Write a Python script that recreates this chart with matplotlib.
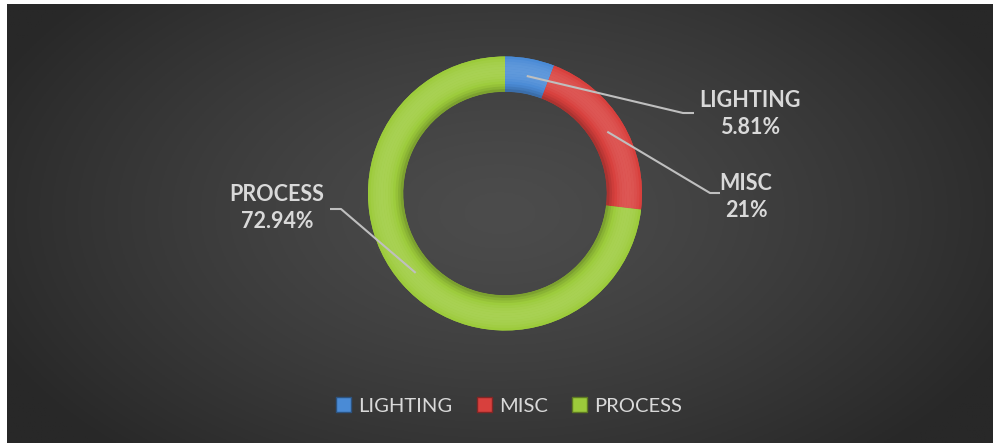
import numpy as np
import matplotlib
matplotlib.use("Agg")
import matplotlib.pyplot as plt
from matplotlib.patches import Wedge, Patch

categories = ["LIGHTING", "MISC", "PROCESS"]
values = [5.81, 21.0, 72.94]
pct_labels = ["5.81%", "21%", "72.94%"]
colors = ["#4A8BD6", "#D8403D", "#9CCB3B"]

W, H = 995, 443
fig = plt.figure(figsize=(W / 100, H / 100), dpi=100, facecolor="white")
ax = fig.add_axes([0, 0, 1, 1])
ax.set_xlim(0, W)
ax.set_ylim(0, H)
ax.axis("off")

# background radial gradient
x0, x1, y0, y1 = 7, 993, 0, 439
gx = np.linspace(x0, x1, 400)
gy = np.linspace(y0, y1, 200)
GX, GY = np.meshgrid(gx, gy)
cx, cy = 500, 230
d = np.sqrt(((GX - cx) / 560) ** 2 + ((GY - cy) / 330) ** 2)
d = np.clip(d, 0, 1)
light, dark = 0x4c / 255, 0x28 / 255
val = light + (dark - light) * d ** 1.3
img = np.dstack([val, val, val])
ax.imshow(img, extent=[x0, x1, y0, y1], origin="lower", aspect="auto", zorder=0)

# donut
center = (505, H - 193.5)
R = 137
width = 35
wedges, _ = ax.pie(values, colors=colors, startangle=90, counterclock=False,
                   radius=R, center=center,
                   wedgeprops=dict(width=width, edgecolor="none"), frame=True)
ax.set_xlim(0, W)
ax.set_ylim(0, H)
ax.set_aspect("equal")
ax.axis("off")

# tube shading bands
def blend(c, t):
    rgb = np.array(matplotlib.colors.to_rgb(c))
    if t >= 0:
        return rgb + (1 - rgb) * t
    return rgb * (1 + t)

nb = 14
for w, c in zip(wedges, colors):
    for i in range(nb):
        r_out = R - i * width / nb
        s = (i + 0.5) / nb  # 0 outer .. 1 inner
        prof = 0.12 * np.cos((s - 0.4) * np.pi) - 0.22 * (abs(s - 0.4) / 0.6) ** 3
        col = blend(c, prof)
        ax.add_patch(Wedge(center, r_out, w.theta1, w.theta2, width=width / nb + 0.3,
                           facecolor=col, edgecolor="none", zorder=2))

# leader lines and labels
total = sum(values)
ang = 90.0
line_col = "#bfbfbf"
text_col = "#d9d9d9"
label_pos = [(750, H - 114), (746, H - 197), (277, H - 208)]
elbow = [(683, H - 113), (710, H - 193), (341, H - 209)]
ends = [(694, H - 113), (720, H - 193), (330, H - 209)]
rm = R - width / 2
for i, (v, cat, pl) in enumerate(zip(values, categories, pct_labels)):
    span = v / total * 360
    mid = np.deg2rad(ang - span / 2)
    ang -= span
    sx = center[0] + rm * np.cos(mid)
    sy = center[1] + rm * np.sin(mid)
    ex, ey = elbow[i]
    tx, ty = ends[i]
    ax.plot([sx, ex, tx], [sy, ey, ty], color=line_col, lw=1.5, zorder=4,
            solid_capstyle="butt")
    ax.text(label_pos[i][0], label_pos[i][1], f"{cat}\n{pl}", ha="center", va="center",
            fontsize=15.5, fontweight="bold", family="Lato", color=text_col,
            linespacing=1.3, zorder=5)

handles = [Patch(facecolor=c, edgecolor=np.array(matplotlib.colors.to_rgb(c)) * 0.6,
                 label=cat) for c, cat in zip(colors, categories)]
leg = ax.legend(handles=handles, loc="center", bbox_to_anchor=(509 / W, 1 - 406 / H),
                ncol=3, frameon=False, handlelength=0.75,
                handleheight=0.75, handletextpad=0.35, columnspacing=1.2,
                prop={"family": "Lato", "size": 14.5}, labelcolor=text_col)

fig.savefig("out.png", dpi=100, facecolor="white")
